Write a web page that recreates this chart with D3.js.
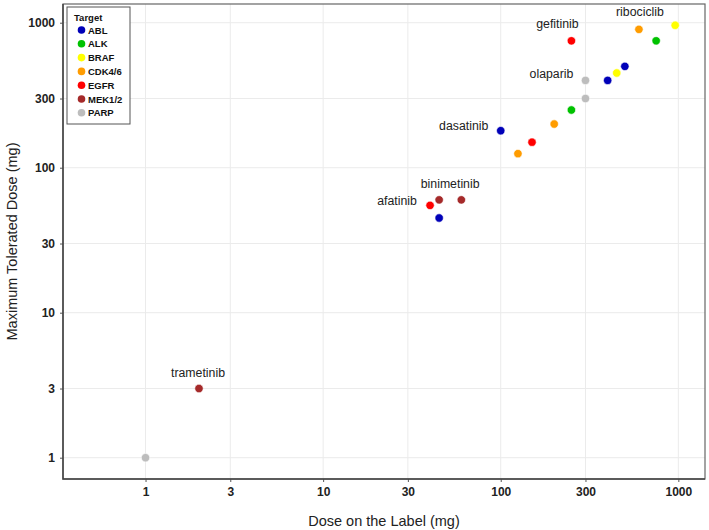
<!DOCTYPE html>
<html><head><meta charset="utf-8">
<script src="https://cdn.jsdelivr.net/npm/d3@7"></script>
<style>body{margin:0;background:#fff}svg{display:block;font-family:Arial,"Liberation Sans",sans-serif}</style>
</head><body><svg id="c" width="709" height="530"></svg>
<script>
// ---- data ----
const drugs   = ["talazoparib","trametinib","afatinib","binimetinib","ponatinib","cobimetinib","dasatinib","palbociclib","erlotinib","abemaciclib","crizotinib","gefitinib","olaparib","olaparib_t","nilotinib","encorafenib","bosutinib","ribociclib","ceritinib","vemurafenib"];
const labelDose = [1, 2, 40, 45, 45, 60, 100, 125, 150, 200, 250, 250, 300, 300, 400, 450, 500, 600, 750, 960];
const mtd       = [1, 3, 55, 60, 45, 60, 180, 125, 150, 200, 250, 750, 400, 300, 400, 450, 500, 900, 750, 960];
const target    = ["PARP","MEK1/2","EGFR","MEK1/2","ABL","MEK1/2","ABL","CDK4/6","EGFR","CDK4/6","ALK","EGFR","PARP","PARP","ABL","BRAF","ABL","CDK4/6","ALK","BRAF"];
const shownLabels = ["trametinib","afatinib","binimetinib","dasatinib","gefitinib","olaparib","ribociclib"];
const targets = ["ABL","ALK","BRAF","CDK4/6","EGFR","MEK1/2","PARP"];
const tickValues = [1, 3, 10, 30, 100, 300, 1000];

// ---- styles ----
const colors = ["#0000b8","#00c200","#ffff00","#ff9c00","#ff0000","#a52a2a","#bdbdbd"];
const labelOffset = {trametinib:[-1,-16], afatinib:[-33,-4], binimetinib:[11,-16], dasatinib:[-37,-5], gefitinib:[-14,-17], olaparib:[-34,-6], ribociclib:[1,-17]};

const P = {l:63, r:705, t:4, b:479};
const x = d3.scaleLog().domain([0.343, 1413]).range([P.l, P.r]);
const y = d3.scaleLog().domain([0.713, 1346]).range([P.b, P.t]);
const color = d3.scaleOrdinal().domain(targets).range(colors);

const svg = d3.select("#c");
const rows = drugs.map((d,i)=>({name:d, x:labelDose[i], y:mtd[i], t:target[i]}));

// grid
svg.append("g").selectAll("line.gx").data(tickValues).join("line")
  .attr("x1",d=>x(d)).attr("x2",d=>x(d)).attr("y1",P.t).attr("y2",P.b)
  .attr("stroke","#ebebeb").attr("stroke-width",1);
svg.append("g").selectAll("line.gy").data(tickValues).join("line")
  .attr("y1",d=>y(d)).attr("y2",d=>y(d)).attr("x1",P.l).attr("x2",P.r)
  .attr("stroke","#ebebeb").attr("stroke-width",1);

// axes
const fmt = d=>String(d);
const xa = svg.append("g").attr("transform",`translate(0,${P.b})`)
  .call(d3.axisBottom(x).tickValues(tickValues).tickFormat(fmt).tickSize(3).tickPadding(5));
const ya = svg.append("g").attr("transform",`translate(${P.l},0)`)
  .call(d3.axisLeft(y).tickValues(tickValues).tickFormat(fmt).tickSize(3).tickPadding(5));
[xa,ya].forEach(a=>{
  a.select(".domain").remove();
  a.selectAll(".tick line").attr("stroke","#555");
  a.selectAll(".tick text").attr("fill","#222").attr("font-size",12).attr("font-weight","bold")
   .attr("font-family","Arial, 'Liberation Sans', sans-serif");
});

// panel border
svg.append("rect").attr("x",P.l).attr("y",P.t).attr("width",P.r-P.l).attr("height",P.b-P.t)
  .attr("fill","none").attr("stroke","#666").attr("stroke-width",1.2);
svg.append("path").attr("d",`M${P.l},${P.t}V${P.b}H${P.r}`).attr("fill","none").attr("stroke","#444").attr("stroke-width",1.5);

// points
svg.append("g").selectAll("circle").data(rows).join("circle")
  .attr("cx",d=>x(d.x)).attr("cy",d=>y(d.y)).attr("r",4.2)
  .attr("fill",d=>color(d.t)).attr("stroke","#fff").attr("stroke-width",0.6);

// labels
svg.append("g").selectAll("text").data(rows.filter(d=>shownLabels.includes(d.name))).join("text")
  .attr("x",d=>x(d.x)+labelOffset[d.name][0]).attr("y",d=>y(d.y)+labelOffset[d.name][1])
  .attr("text-anchor","middle").attr("dominant-baseline","central")
  .attr("font-size",12.3).attr("fill","#222").text(d=>d.name);

// axis titles
svg.append("text").attr("x",(P.l+P.r)/2).attr("y",521).attr("text-anchor","middle")
  .attr("dominant-baseline","central").attr("font-size",14.5).attr("fill","#222").text("Dose on the Label (mg)");
svg.append("text").attr("transform",`translate(12,${(P.t+P.b)/2}) rotate(-90)`).attr("text-anchor","middle")
  .attr("dominant-baseline","central").attr("font-size",14.5).attr("fill","#222").text("Maximum Tolerated Dose (mg)");

// legend
const lg = svg.append("g");
lg.append("rect").attr("x",67).attr("y",7).attr("width",63).attr("height",117)
  .attr("fill","#fff").attr("stroke","#555").attr("stroke-width",1);
lg.append("text").attr("x",74).attr("y",17).attr("dominant-baseline","central")
  .attr("font-size",9.5).attr("font-weight","bold").attr("fill","#111").text("Target");
const li = lg.selectAll("g.it").data(targets).join("g").attr("transform",(d,i)=>`translate(0,${30+i*13.8})`);
li.append("circle").attr("cx",81.5).attr("cy",0).attr("r",3.8).attr("fill",d=>color(d));
li.append("text").attr("x",88).attr("y",0).attr("dominant-baseline","central")
  .attr("font-size",9.5).attr("font-weight","bold").attr("fill","#111").text(d=>d);
</script></body></html>
